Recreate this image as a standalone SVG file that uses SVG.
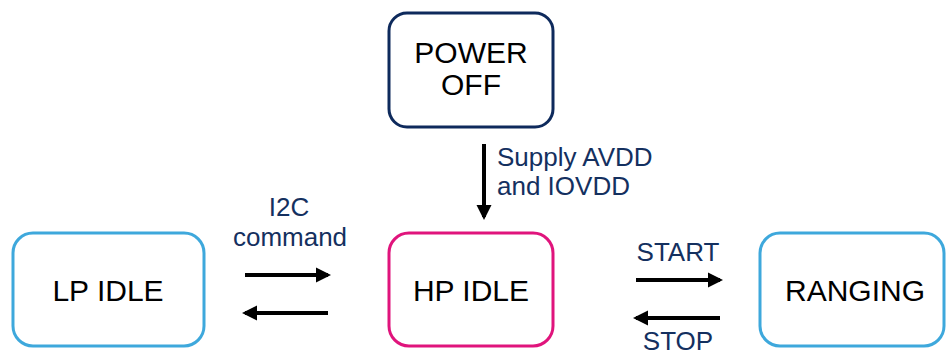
<svg xmlns="http://www.w3.org/2000/svg" width="946" height="356" viewBox="0 0 946 356">
<defs>
<style>
.box{fill:#fff;stroke-width:3}
.node{font-family:"Liberation Sans",Arial,sans-serif;font-size:30px;fill:#000;text-anchor:middle}
.lbl{font-family:"Liberation Sans",Arial,sans-serif;font-size:26px;fill:#14305f}
.arr{stroke:#000;stroke-width:4;fill:none;marker-end:url(#ah)}
</style>
<marker id="ah" viewBox="0 0 10 10" refX="8" refY="5" markerWidth="3.8" markerHeight="3.8" orient="auto" markerUnits="strokeWidth">
<path d="M0,0 L10,5 L0,10 Z" fill="#000"/>
</marker>
</defs>
<rect width="946" height="356" fill="#fff"/>
<g id="power-off">
<rect class="box" x="389" y="13" width="164" height="114" rx="18" stroke="#0e2a5c"/>
<text class="node" x="471" y="63">POWER</text>
<text class="node" x="471" y="95">OFF</text>
</g>
<g id="lp-idle">
<rect class="box" x="13" y="233" width="191" height="113" rx="20" stroke="#3ea8dc"/>
<text class="node" x="108" y="301">LP IDLE</text>
</g>
<g id="hp-idle">
<rect class="box" x="389" y="233" width="164" height="113" rx="20" stroke="#e0147c"/>
<text class="node" x="471" y="301">HP IDLE</text>
</g>
<g id="ranging">
<rect class="box" x="760" y="233" width="184" height="113" rx="20" stroke="#3ea8dc"/>
<text class="node" x="855" y="301">RANGING</text>
</g>
<g id="connectors">
<line class="arr" x1="484" y1="144" x2="484" y2="217"/>
<line class="arr" x1="245" y1="275" x2="328" y2="275"/>
<line class="arr" x1="328" y1="313" x2="245" y2="313"/>
<line class="arr" x1="636" y1="280" x2="720" y2="280"/>
<line class="arr" x1="720" y1="318" x2="636" y2="318"/>
<text class="lbl" x="497" y="166">Supply AVDD</text>
<text class="lbl" x="497" y="195">and IOVDD</text>
<text class="lbl" x="289" y="216" text-anchor="middle">I2C</text>
<text class="lbl" x="290" y="246" text-anchor="middle">command</text>
<text class="lbl" x="678" y="261" text-anchor="middle">START</text>
<text class="lbl" x="678" y="350" text-anchor="middle">STOP</text>
</g>
</svg>
